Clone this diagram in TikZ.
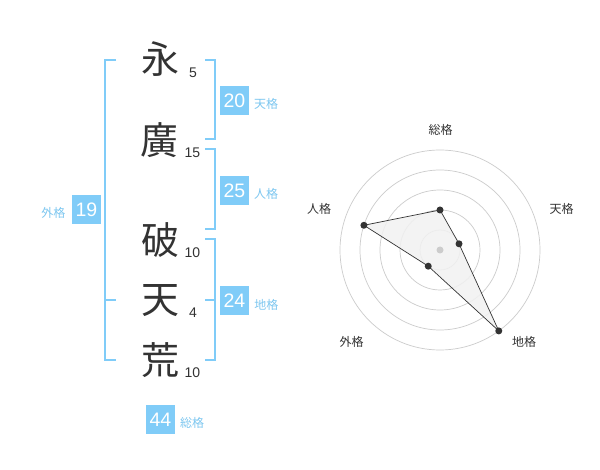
\documentclass[tikz,border=0pt]{standalone}
\usepackage{fontspec}
\setmainfont{Liberation Sans}
\newfontfamily\jp{Noto Sans CJK JP}
\definecolor{sky}{HTML}{80CCF8}
\definecolor{skytxt}{HTML}{7DC7F0}
\definecolor{ink}{HTML}{333333}
\definecolor{gridc}{HTML}{CCCCCC}
\definecolor{polyfill}{HTML}{F1F1F1}
\begin{document}
\begin{tikzpicture}[x=1pt,y=-1pt,
  kanji/.style={font=\jp\fontsize{38}{38}\selectfont, text=ink, inner sep=0pt},
  strokes/.style={font=\fontsize{14}{14}\selectfont, text=ink, inner sep=0pt},
  numbox/.style={fill=sky, text=white, minimum size=29pt, inner sep=0pt, font=\fontsize{19.5}{19.5}\selectfont},
  kaku/.style={font=\jp\fontsize{12}{12}\selectfont, text=skytxt, inner sep=0pt},
  brk/.style={draw=sky, line width=2pt},
  gridline/.style={draw=gridc, line width=0.7pt},
  radlabel/.style={font=\jp\fontsize{12}{12}\selectfont, text=ink, inner sep=0pt},
  vdot/.style={circle, fill=ink, inner sep=0pt, minimum size=7pt},
]
\fill[white] (0,0) rectangle (600,470);
\useasboundingbox (0,0) rectangle (600,470);

% brackets
\draw[brk] (116,60) -- (105,60) -- (105,360) -- (116,360);
\draw[brk] (105,300) -- (116,300);
\draw[brk] (205,60) -- (215,60) -- (215,139) -- (205,139);
\draw[brk] (205,149) -- (215,149) -- (215,229) -- (205,229);
\draw[brk] (205,239) -- (215,239) -- (215,360) -- (205,360);
\draw[brk] (205,300) -- (215,300);

% characters
\node[kanji] (k1) at (160,59.5) {永};
\node[kanji] (k2) at (159,140) {廣};
\node[kanji] (k3) at (160,240) {破};
\node[kanji] (k4) at (160,301) {天};
\node[kanji] (k5) at (160,360) {荒};

\node[strokes] (s1) at (193,72.5) {5};
\node[strokes] (s2) at (192.5,152.5) {15};
\node[strokes] (s3) at (192.5,252.8) {10};
\node[strokes] (s4) at (193,312.2) {4};
\node[strokes] (s5) at (192.5,372.5) {10};

% score boxes
\node[numbox] (b20) at (234.5,100.3) {20};
\node[kaku] (l20) at (266,103.5) {天格};
\node[numbox] (b25) at (234.5,190.3) {25};
\node[kaku] (l25) at (266,193.5) {人格};
\node[numbox] (b24) at (234.5,300.3) {24};
\node[kaku] (l24) at (266.3,304.5) {地格};
\node[numbox] (b19) at (86.5,210) {19};
\node[kaku] (l19) at (53.5,213) {外格};
\node[numbox] (b44) at (160.5,419.3) {44};
\node[kaku] (l44) at (192,422.5) {総格};

% radar chart
\begin{scope}[shift={(440,250)}]
  \foreach \r in {20,40,60,80,100} \draw[gridline] (0,0) circle[radius=\r pt];
  \coordinate (pS) at (90:40pt);
  \coordinate (pT) at (18:20pt);
  \coordinate (pC) at (-54:100pt);
  \coordinate (pG) at (234:20pt);
  \coordinate (pJ) at (162:80pt);
  \filldraw[fill=polyfill, draw=ink, line width=0.7pt, fill opacity=0.85] (pS) -- (pT) -- (pC) -- (pG) -- (pJ) -- cycle;
  \node[circle, fill=gridc, inner sep=0pt, minimum size=7pt] (ctr) at (0,0) {};
  \node[vdot] (dS) at (pS) {};
  \node[vdot] (dT) at (pT) {};
  \node[vdot] (dC) at (pC) {};
  \node[vdot] (dG) at (pG) {};
  \node[vdot] (dJ) at (pJ) {};
\end{scope}
\node[radlabel] (rS) at (440.7,130) {総格};
\node[radlabel] (rT) at (561.7,209) {天格};
\node[radlabel] (rJ) at (319,209) {人格};
\node[radlabel] (rG) at (351.7,342.3) {外格};
\node[radlabel] (rC) at (524,342.3) {地格};
\end{tikzpicture}
\end{document}
